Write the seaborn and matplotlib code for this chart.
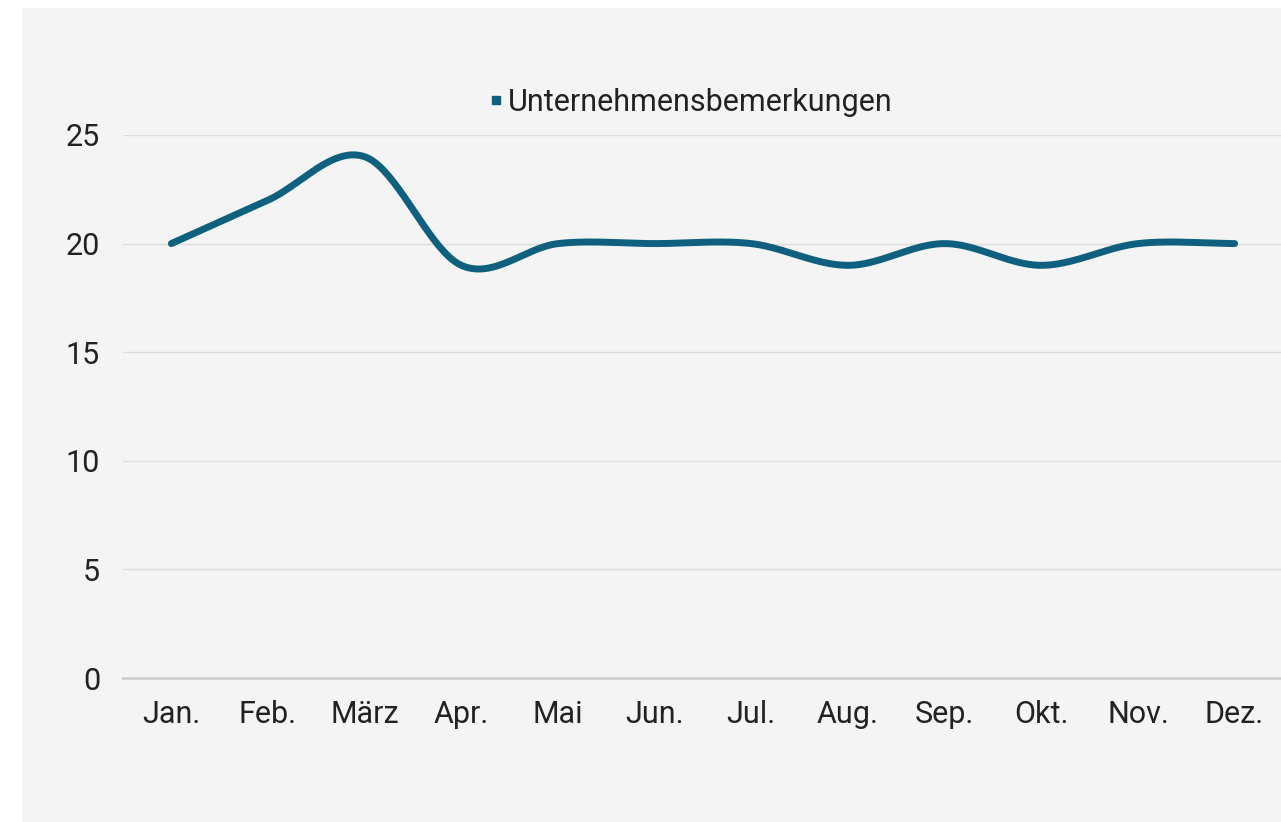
import numpy as np
import pandas as pd
import matplotlib.pyplot as plt
import matplotlib.patches as mpatches
from matplotlib.lines import Line2D
import seaborn as sns

# Data
months = ['Jan.', 'Feb.', 'März', 'Apr.', 'Mai', 'Jun.', 'Jul.', 'Aug.', 'Sep.', 'Okt.', 'Nov.', 'Dez.']
values = [20, 22, 24, 19, 20, 20, 20, 19, 20, 19, 20, 20]
series_name = 'Unternehmensbemerkungen'

line_color = '#0e607e'
bg_color = '#f4f4f4'


def catmull_rom(y, steps=40):
    # smooth line through the points (like a spreadsheet "smoothed line")
    y = np.asarray(y, dtype=float)
    p = np.concatenate([[2 * y[0] - y[1]], y, [2 * y[-1] - y[-2]]])
    xs, ys = [], []
    for i in range(len(y) - 1):
        p0, p1, p2, p3 = p[i], p[i + 1], p[i + 2], p[i + 3]
        t = np.linspace(0, 1, steps, endpoint=False)
        seg = 0.5 * ((2 * p1) + (-p0 + p2) * t + (2 * p0 - 5 * p1 + 4 * p2 - p3) * t ** 2
                     + (-p0 + 3 * p1 - 3 * p2 + p3) * t ** 3)
        xs.append(i + t)
        ys.append(seg)
    xs.append([len(y) - 1])
    ys.append([y[-1]])
    return np.concatenate(xs), np.concatenate(ys)


sx, sy = catmull_rom(values)
df = pd.DataFrame({'x': sx, 'y': sy})

sns.set_theme(style='white')
plt.rcParams['font.family'] = ['Roboto', 'DejaVu Sans']

W, H = 1281, 822
fig = plt.figure(figsize=(W / 100, H / 100), dpi=100)
fig.patch.set_facecolor('white')
bg = mpatches.Rectangle((22 / W, 0), (W - 22) / W, 1 - 8 / H, transform=fig.transFigure,
                        facecolor=bg_color, edgecolor='none', zorder=-10)
fig.add_artist(bg)

ax = fig.add_axes([123 / W, (H - 678) / H, (W - 123) / W, (678 - 135) / H])
ax.set_facecolor('none')
ax.set_zorder(1)

sns.lineplot(data=df, x='x', y='y', ax=ax, color=line_color, linewidth=5,
             solid_capstyle='round', clip_on=False, zorder=3)

ax.set_xlim(-0.5, 11.48)
ax.set_ylim(0, 25)
ax.set_xticks(range(len(months)))
ax.set_xticklabels(months)
ax.set_yticks([0, 5, 10, 15, 20, 25])
ax.set_xlabel('')
ax.set_ylabel('')

for v in [5, 10, 15, 20, 25]:
    ax.axhline(v, color='#dcdcdc', linewidth=1, zorder=1)

for s in ['top', 'right', 'left']:
    ax.spines[s].set_visible(False)
ax.spines['bottom'].set_color('#cfcfcf')
ax.spines['bottom'].set_linewidth(2)

ax.tick_params(axis='both', length=0, labelsize=22, colors='#222222')
ax.tick_params(axis='x', pad=16)
ax.tick_params(axis='y', pad=16.5)

handle = Line2D([], [], marker='s', markersize=5.5, linestyle='none', color=line_color)
ax.legend([handle], [series_name], loc='center', bbox_to_anchor=(0.488, 1.06),
          frameon=False, fontsize=22, handletextpad=0.0, handlelength=0.8,
          labelcolor='#222222')

fig.savefig('out.png', dpi=100, facecolor=fig.get_facecolor())
